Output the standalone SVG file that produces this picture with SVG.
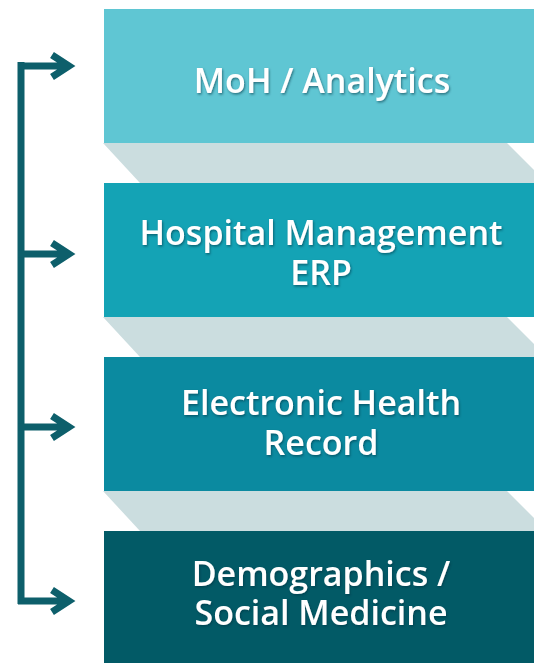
<svg xmlns="http://www.w3.org/2000/svg" width="534" height="663" viewBox="0 0 534 663">
<defs>
<style>
.lbl{font-family:"Open Sans","Noto Sans",sans-serif;font-size:34px;font-weight:600;fill:#ffffff;text-anchor:middle;filter:url(#sh)}
.band{fill:#cbdddf}
.conn{fill:none;stroke:#0d5f6b;stroke-width:7}
</style>
<filter id="sh" x="-10%" y="-30%" width="120%" height="160%">
<feDropShadow dx="1" dy="1.5" stdDeviation="0.8" flood-color="#003340" flood-opacity="0.55"/>
</filter>
</defs>
<rect width="534" height="663" fill="#ffffff"/>
<g id="bands">
<polygon class="band" points="103,143 507,143 547,183 140,183"/>
<polygon class="band" points="103,317 507,317 547,357 140,357"/>
<polygon class="band" points="103,491 507,491 547,531 140,531"/>
</g>
<g id="node-moh">
<rect x="104" y="9" width="430" height="134" fill="#5fc6d3"/>
<text class="lbl" x="322" y="93">MoH / Analytics</text>
</g>
<g id="node-erp">
<rect x="104" y="183" width="430" height="134" fill="#14a3b5"/>
<text class="lbl"><tspan x="321" y="245">Hospital Management</tspan><tspan x="321" y="285">ERP</tspan></text>
</g>
<g id="node-ehr">
<rect x="104" y="357" width="430" height="134" fill="#0b8aa0"/>
<text class="lbl"><tspan x="321" y="415">Electronic Health</tspan><tspan x="321" y="455">Record</tspan></text>
</g>
<g id="node-demo">
<rect x="104" y="531" width="430" height="132" fill="#025a66"/>
<text class="lbl"><tspan x="321" y="586">Demographics /</tspan><tspan x="321" y="625">Social Medicine</tspan></text>
</g>
<g id="connectors">
<path class="conn" d="M21,62 V604"/>
<path class="conn" d="M18,66 H68 M52,55 L69,66 L52,77"/>
<path class="conn" d="M18,254 H68 M52,243 L69,254 L52,265"/>
<path class="conn" d="M18,427 H68 M52,416 L69,427 L52,438"/>
<path class="conn" d="M18,601 H68 M52,590 L69,601 L52,612"/>
</g>
</svg>
